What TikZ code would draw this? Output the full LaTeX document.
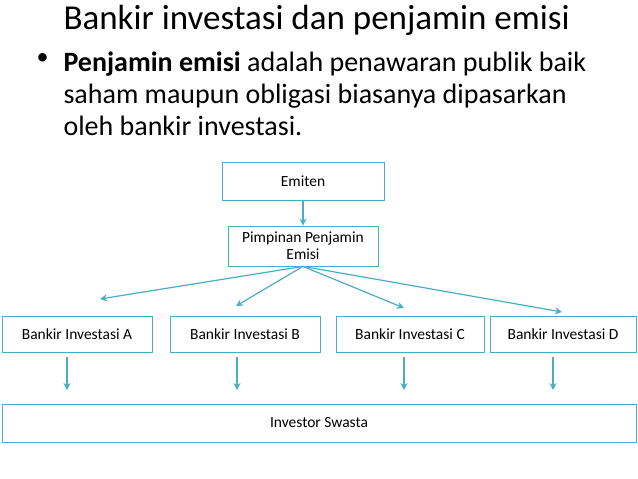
\documentclass[tikz,border=0pt]{standalone}
\usepackage{fontspec}
\setmainfont{Carlito}
\usetikzlibrary{arrows.meta}
\definecolor{teal}{RGB}{75,172,198}
\tikzset{
  box/.style={draw=teal,thick,align=center,font=\fontsize{15.5}{17}\selectfont,inner sep=0pt},
  link/.style={draw=teal,line width=1.2pt,-{Stealth[length=7pt,width=7pt]}}
}
\begin{document}
\begin{tikzpicture}[x=1pt,y=-1pt]
		\useasboundingbox (0,0) rectangle (638,479);
		\node[anchor=west,font=\fontsize{35}{38}\selectfont] (title) at (60,20) {Bankir investasi dan penjamin emisi};
		\node[anchor=north west,align=left,font=\fontsize{28}{32}\selectfont] (text) at (60,48)
			{\textbf{Penjamin emisi} adalah penawaran publik baik\\saham maupun obligasi biasanya dipasarkan\\oleh bankir investasi.};
		\node[anchor=north west,font=\fontsize{24}{32}\selectfont] (dot) at (33,50) {\textbullet};
		
		\node[box,minimum width=162,minimum height=38] (emiten) at (303,181) {Emiten};
		\node[box,minimum width=150,minimum height=40] (pimpinan) at (303,246) {Pimpinan Penjamin\\Emisi};
		\node[box,minimum width=150,minimum height=36] (bankA) at (77,334) {Bankir Investasi A};
		\node[box,minimum width=150,minimum height=36] (bankB) at (245,334) {Bankir Investasi B};
		\node[box,minimum width=148,minimum height=36] (bankC) at (410,334) {Bankir Investasi C};
		\node[box,minimum width=146,minimum height=36] (bankD) at (563,334) {Bankir Investasi D};
		\node[box,minimum width=634,minimum height=38] (investor) at (319,423) {Investor Swasta};
		
		\draw[link] (emiten) -- (pimpinan);
		\coordinate (tA) at (100,299);
		\coordinate (tB) at (236,306);
		\coordinate (tC) at (404,308);
		\coordinate (tD) at (562,312);
		\foreach \t in {tA,tB,tC,tD}
			\draw[link] (pimpinan.south) -- (\t);
		
		% downward arrows
		\foreach \x in {67,237,404,553}
			\draw[link] (\x,357) -- (\x,390);
	\end{tikzpicture}
\end{document}
